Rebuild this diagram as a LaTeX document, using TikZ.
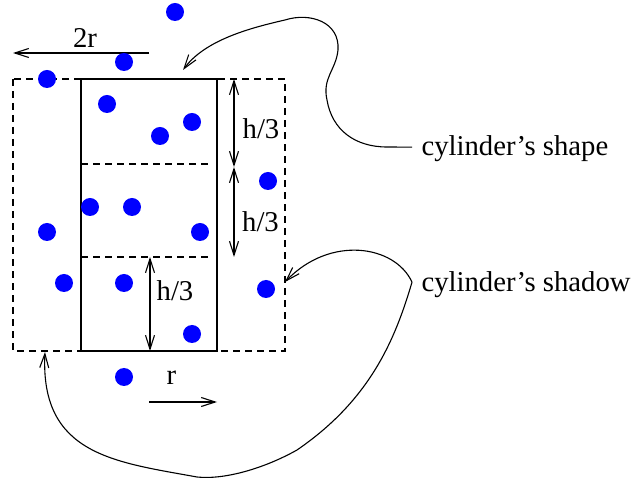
\documentclass[tikz,border=0pt]{standalone}
\usepackage{fontspec}
\setmainfont{Liberation Serif}
\usetikzlibrary{arrows.meta}
\definecolor{dotblue}{RGB}{0,0,255}
\begin{document}
\begin{tikzpicture}[x=0.5bp,y=-0.5bp,
  line width=0.55bp,
  tip/.style={-{Straight Barb[length=7bp,width=4.5bp]}},
  dtip/.style={{Straight Barb[length=7bp,width=4.5bp]}-{Straight Barb[length=7bp,width=4.5bp]}},
  shadowline/.style={dash pattern=on 3.5bp off 2.5bp},
  dot/.style={fill=dotblue},
  lbl/.style={font=\fontsize{14.4}{17}\selectfont, inner sep=0pt}]
\useasboundingbox (0,0) rectangle (634,483);

% shadow and cylinder
\draw[shadowline] (13,79) rectangle (285,351);
\draw (81,79) rectangle (217,351);
\draw[shadowline] (81,164) -- (212,164);
\draw[shadowline] (81,257) -- (212,257);

% dimension arrows
\coordinate (a1) at (234,79);
\coordinate (a2) at (234,167);
\coordinate (a3) at (234,257);
\draw[dtip] (a1) -- (a2);
\draw[dtip] (a2) -- (a3);
\coordinate (b1) at (150,257);
\coordinate (b2) at (150,351);
\draw[dtip] (b1) -- (b2);
\coordinate (tr1) at (149,53);
\coordinate (tr2) at (13,53);
\draw[tip] (tr1) -- (tr2);
\coordinate (r1) at (149,402);
\coordinate (r2) at (217,402);
\draw[tip] (r1) -- (r2);

% labels
\node[lbl] (h1) at (261,129) {h/3};
\node[lbl] (h2) at (260.5,222) {h/3};
\node[lbl] (h3) at (175,291) {h/3};
\node[lbl] (tworr) at (85,38.5) {2r};
\node[lbl] (rr) at (171.5,378) {r};
\node[lbl, anchor=base west, inner xsep=4.5bp] (shape) at (412,156) {cylinder's shape};
\node[lbl, anchor=base west, inner xsep=4.5bp] (shadow) at (412,292) {cylinder's shadow};

% curved connectors
\coordinate (shapetip) at (183,70);
\coordinate (shadowtipA) at (285,282);
\coordinate (shadowtipB) at (45,352);
\draw[tip] ([yshift=1bp]shape.west) -- (387,147)
  .. controls (355,147) and (332,130) .. (327,100)
  .. controls (322,78) and (336,70) .. (338,50)
  .. controls (340,22) and (310,12) .. (285,20)
  .. controls (250,28) and (205,40) .. (shapetip);
\draw[tip] ([yshift=1.5bp]shadow.west) .. controls (395,245) and (330,235) .. (shadowtipA);
\draw[tip] ([yshift=1.5bp]shadow.west) .. controls (395,340) and (370,400) .. (297,450)
  .. controls (265,468) and (225,480) .. (197,477)
  .. controls (115,462) and (40,455) .. (shadowtipB);

% particles
\foreach \p in {(175,12),(124,62),(47,79),(107,104),(192,122),(160,136),
  (268,181),(90,207),(132,207),(47,232),(200,232),(64,283),(124,283),
  (266,289),(192,334),(124,377)}
  \fill[dot] \p circle[radius=4.5bp];
\end{tikzpicture}
\end{document}
